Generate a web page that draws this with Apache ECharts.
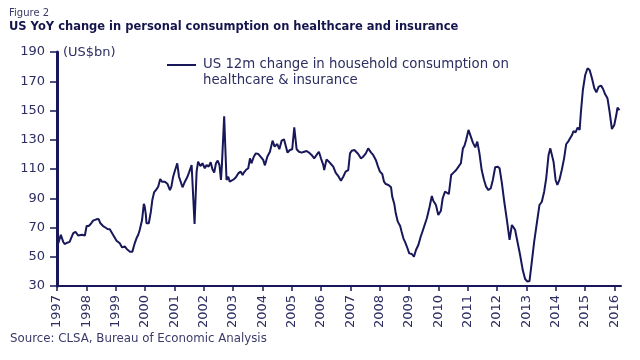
<!DOCTYPE html>
<html>
<head>
<meta charset="utf-8">
<script src="https://cdn.jsdelivr.net/npm/echarts@6/dist/echarts.min.js"></script>
<style>
html,body{margin:0;padding:0;background:#fff;}
#c{width:640px;height:360px;}
</style>
</head>
<body>
<div id="c"></div>
<script>
const figureLabel = 'Figure 2';
const titleText = 'US YoY change in personal consumption on healthcare and insurance';
const sourceText = 'Source: CLSA, Bureau of Economic Analysis';
const unitText = '(US$bn)';
const seriesName = 'US 12m change in household consumption on\nhealthcare & insurance';
const yearTicks = [1997,1998,1999,2000,2001,2002,2003,2004,2005,2006,2007,2008,2009,2010,2011,2012,2013,2014,2015,2016];

const dates = [
1997.01,1997.13,1997.21,1997.26,1997.35,1997.43,1997.48,1997.55,1997.63,1997.72,1997.77,1997.85,1997.95,
1998.01,1998.08,1998.15,1998.23,1998.34,1998.42,1998.48,1998.57,1998.65,1998.72,1998.80,1998.86,1998.95,
1999.03,1999.08,1999.14,1999.22,1999.31,1999.37,1999.42,1999.48,1999.54,1999.57,1999.65,1999.71,1999.77,1999.82,1999.90,1999.96,1999.99,
2000.03,2000.05,2000.13,2000.20,2000.25,2000.31,2000.39,2000.45,2000.52,2000.58,2000.68,2000.77,2000.85,2000.90,2000.96,
2001.02,2001.10,2001.16,2001.28,2001.36,2001.44,2001.50,2001.59,2001.69,2001.76,2001.81,2001.89,2001.96,
2002.04,2002.10,2002.17,2002.24,2002.30,2002.36,2002.42,2002.48,2002.54,2002.59,2002.62,2002.70,2002.78,2002.84,2002.89,2002.95,
2003.03,2003.10,2003.18,2003.26,2003.33,2003.37,2003.44,2003.52,2003.58,2003.63,2003.71,2003.78,2003.86,2003.94,
2004.03,2004.09,2004.17,2004.26,2004.35,2004.42,2004.47,2004.51,2004.58,2004.66,2004.74,2004.80,2004.86,2004.94,
2005.02,2005.09,2005.17,2005.25,2005.34,2005.43,2005.51,2005.59,2005.68,2005.77,2005.85,2005.93,
2006.00,2006.08,2006.11,2006.19,2006.27,2006.34,2006.42,2006.50,2006.59,2006.68,2006.76,2006.84,2006.93,2006.99,
2007.05,2007.14,2007.19,2007.27,2007.36,2007.44,2007.53,2007.61,2007.71,2007.78,2007.87,2007.94,
2008.01,2008.09,2008.15,2008.21,2008.30,2008.39,2008.43,2008.50,2008.55,2008.62,2008.70,2008.75,2008.81,2008.87,2008.95,
2009.01,2009.10,2009.17,2009.24,2009.32,2009.40,2009.47,2009.52,2009.61,2009.70,2009.78,2009.83,2009.92,
2010.00,2010.09,2010.15,2010.23,2010.29,2010.36,2010.44,2010.52,2010.61,2010.69,2010.77,2010.84,2010.89,2010.95,
2011.03,2011.11,2011.18,2011.26,2011.33,2011.40,2011.48,2011.56,2011.63,2011.71,2011.79,2011.86,2011.94,
2012.02,2012.09,2012.17,2012.25,2012.34,2012.43,2012.51,2012.57,2012.62,2012.70,2012.79,2012.88,2012.96,
2013.04,2013.11,2013.19,2013.27,2013.36,2013.45,2013.53,2013.61,2013.68,2013.76,2013.82,2013.87,2013.93,
2014.00,2014.06,2014.13,2014.21,2014.29,2014.36,2014.44,2014.50,2014.56,2014.61,2014.68,2014.75,2014.82,2014.86,2014.93,
2015.01,2015.09,2015.16,2015.24,2015.32,2015.39,2015.47,2015.55,2015.62,2015.69,2015.77,2015.84,2015.92,
2016.00,2016.07,2016.11,2016.18
];
const values = [
57,65,60.3,58.7,59.6,60.2,59.5,66,67.1,64.5,63.3,65,64.5,
71,71,72.4,74.7,75.6,75.8,72.9,71,70,69,68.8,68.3,63.7,
61,61.4,59.2,56.4,57.1,55.5,56,53.5,52.8,53.5,59.2,62.6,65,68.3,75.1,86.1,84.4,
78.6,72.9,72.9,80.8,88.8,94,96.1,97.9,103.2,101.3,101.3,99.7,95.6,97.9,104.7,
108.8,113.9,104.7,97.5,101.3,104.3,107.5,112.7,72.4,108.2,115,112,113.9,
110.5,112.7,111.6,114.6,109.8,107.5,113.9,115.7,112.7,102.5,111.6,146,102.5,104.7,101.3,100.2,
103,104.3,107,108.2,105.9,107.5,109.3,110.5,117.3,113.9,118.4,120.7,120.3,118.4,
116.2,112.5,118.4,121.8,129.4,125.3,125,127.1,123.5,129.4,130.3,129.4,121.2,123,
123.5,138.5,123.5,121.8,121.2,121.8,122.3,121.2,119.6,117.3,119.6,121.8,
117.3,112.7,109.3,116.6,115,113.4,111.6,107.5,105.2,102,104.7,108.2,109.3,120.7,
122.5,123,124.1,120.3,117.3,118.4,120.7,124.1,121.2,119.6,116.2,112,
108.2,106.6,101.3,99.7,99.1,97.5,91.1,86.1,79.7,74,71,67.1,62.6,60,55.8,
52.3,51.9,50,54.6,58,63.7,67.8,68.8,76.3,83.8,91.5,88.3,85.4,
78.5,81.5,90,94.5,95.6,92.9,105.9,107.5,109.3,111.6,113.9,124.1,125.7,129.8,
136.7,132.1,128,124.8,128.7,121.2,109.3,102.5,97.9,95.6,96.8,102.5,111.2,
111.6,110.5,100.2,87.6,75.1,61.5,71.7,70,68.3,60.3,51.2,40.9,34.8,
33,33.4,46.6,60.3,72.9,85.4,87.6,94.5,103.6,119.6,124.1,123,115,
102.5,99.1,102.5,109.3,117.3,126.9,129.1,129.1,133.2,136,135.1,138.3,136.7,148.1,164,
174.3,178.9,177.7,172,165.2,162.4,166.3,167,164.7,161.1,158.3,149.2,137.3,
140.1,146.9,151.9,150.3
];

const navy = '#17175a';
const labelColor = '#2e2e62';
const font = '"DejaVu Sans", Verdana, sans-serif';

const chart = echarts.init(document.getElementById('c'), null, {renderer: 'canvas'});
chart.setOption({
  animation: false,
  backgroundColor: '#ffffff',
  grid: {left: 57, right: 19, top: 52, bottom: 74, containLabel: false},
  xAxis: {
    type: 'value',
    min: 1997, max: 2016.23, interval: 1,
    splitLine: {show: false},
    axisLine: {lineStyle: {color: navy, width: 2}},
    axisTick: {show: true, length: 5, lineStyle: {color: navy, width: 1.5}, customValues: yearTicks},
    axisLabel: {rotate: 90, margin: 9, color: labelColor, fontFamily: font, fontSize: 13,
      customValues: yearTicks, formatter: v => String(Math.round(v))}
  },
  yAxis: {
    type: 'value',
    min: 30, max: 190, interval: 20,
    splitLine: {show: false},
    axisLine: {show: true, lineStyle: {color: navy, width: 3}},
    axisTick: {show: true, length: 7, lineStyle: {color: navy, width: 1.5}},
    axisLabel: {margin: 12, color: labelColor, fontFamily: font, fontSize: 13}
  },
  series: [{
    name: seriesName,
    type: 'line',
    showSymbol: false,
    smooth: false,
    lineStyle: {color: navy, width: 2},
    data: dates.map((d, i) => [d, values[i]])
  }],
  graphic: [
    {type: 'text', left: 9, top: 8, style: {text: figureLabel, fontFamily: font, fontSize: 10, fill: '#3a3a66'}},
    {type: 'text', left: 9, top: 21, style: {text: titleText, fontFamily: font, fontSize: 11.5, fontWeight: 'bold', fill: '#15154d'}},
    {type: 'text', left: 63, top: 46, style: {text: unitText, fontFamily: font, fontSize: 13, fill: labelColor}},
    {type: 'line', shape: {x1: 167, y1: 65, x2: 196, y2: 65}, style: {stroke: navy, lineWidth: 2}},
    {type: 'text', left: 203, top: 57, style: {text: seriesName, fontFamily: font, fontSize: 13.3, lineHeight: 16, fill: labelColor}},
    {type: 'text', left: 10, top: 333, style: {text: sourceText, fontFamily: font, fontSize: 11.8, fill: '#3a3a6a'}}
  ]
});
</script>
</body>
</html>
